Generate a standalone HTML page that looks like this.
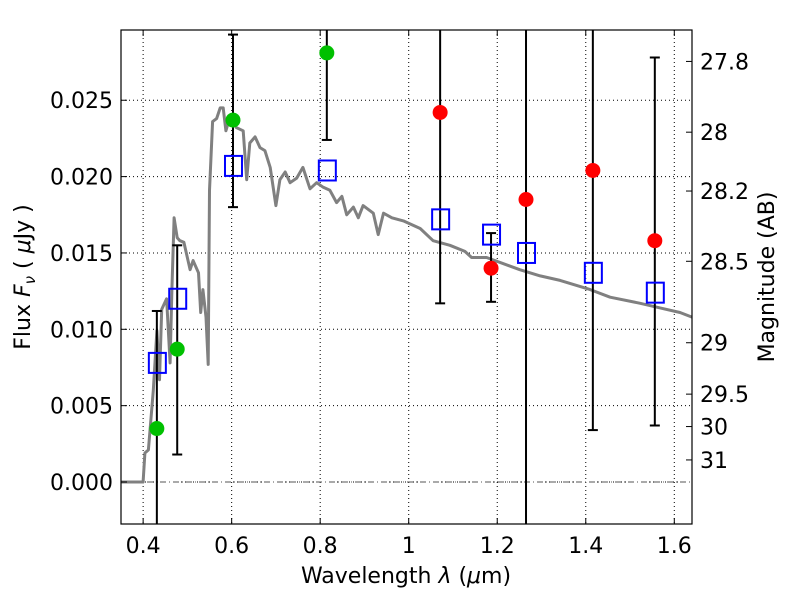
<!DOCTYPE html>
<html><head><meta charset="utf-8"><style>
html,body{margin:0;padding:0;background:#fff;}
svg{display:block;font-family:"DejaVu Sans","Liberation Sans",sans-serif;}
</style></head><body>
<svg id="chart" width="800" height="600" viewBox="0 0 800 600">
<rect width="800" height="600" fill="#fff"/>
<g id="grid"></g>
<g id="spec"></g>
<g id="marks"></g>
<rect x="121" y="30" width="571" height="494" fill="none" stroke="#000" stroke-width="1.2"/>
<g id="axes"></g>
<text x="406" y="583" font-size="22" text-anchor="middle">Wavelength  <tspan font-style="italic">λ</tspan> (<tspan font-style="italic">μ</tspan>m)</text>
<text transform="translate(30,277) rotate(-90)" font-size="22" text-anchor="middle">Flux  <tspan font-style="italic">F</tspan><tspan font-style="italic" font-size="15" dy="5">ν</tspan><tspan dy="-5">  ( </tspan><tspan font-style="italic">μ</tspan>Jy )</text>
<text transform="translate(774,277) rotate(-90)" font-size="22" text-anchor="middle">Magnitude (AB)</text>
</svg>
<script>
const xTicks=[0.4,0.6,0.8,1.0,1.2,1.4,1.6];
const xTickLabels=["0.4","0.6","0.8","1","1.2","1.4","1.6"];
const yTicks=[0,0.005,0.010,0.015,0.020,0.025];
const yTickLabels=["0.000","0.005","0.010","0.015","0.020","0.025"];
const magTicks=[27.8,28,28.2,28.5,29,29.5,30,31];
const magTickLabels=["27.8","28","28.2","28.5","29","29.5","30","31"];
const bandWave=[0.431,0.477,0.603,0.815,1.071,1.186,1.265,1.416,1.556];
const obsFlux=[0.0035,0.0087,0.0237,0.0281,0.0242,0.0140,0.0185,0.0204,0.0158];
const obsColor=["#00c000","#00c000","#00c000","#00c000","#ff0000","#ff0000","#ff0000","#ff0000","#ff0000"];
const errHigh=[0.0112,0.0155,0.0293,0.031,0.031,0.0163,0.031,0.031,0.0278];
const errLow=[-0.004,0.0018,0.0180,0.0224,0.0117,0.0118,-0.004,0.0034,0.0037];
const modelFlux=[0.0078,0.0120,0.0207,0.0204,0.0172,0.0162,0.0150,0.0137,0.0124];
const specWave=[0.35,0.400,0.404,0.412,0.423,0.431,0.437,0.442,0.453,0.461,0.465,0.470,0.477,0.483,0.492,0.506,0.513,0.525,0.530,0.535,0.542,0.547,0.550,0.557,0.566,0.574,0.581,0.587,0.596,0.611,0.626,0.634,0.641,0.653,0.664,0.675,0.687,0.700,0.709,0.721,0.732,0.747,0.761,0.777,0.792,0.807,0.822,0.837,0.849,0.860,0.875,0.886,0.897,0.920,0.931,0.943,0.962,0.988,1.003,1.026,1.055,1.093,1.127,1.142,1.176,1.251,1.297,1.342,1.410,1.455,1.523,1.568,1.613,1.640];
const specFlux=[0,0,0.0019,0.0021,0.0060,0.0099,0.0067,0.0113,0.0120,0.0078,0.0126,0.0173,0.0160,0.0158,0.0157,0.0139,0.0145,0.0137,0.0111,0.0126,0.0108,0.0077,0.0191,0.0236,0.0238,0.0245,0.0245,0.0230,0.0239,0.0232,0.0230,0.0198,0.0222,0.0226,0.0219,0.0217,0.0206,0.0181,0.0198,0.0203,0.0196,0.0199,0.0206,0.0192,0.0196,0.0193,0.0191,0.0183,0.0187,0.0175,0.0180,0.0173,0.0181,0.0176,0.0162,0.0176,0.0173,0.0171,0.0169,0.0166,0.0158,0.0155,0.0151,0.0147,0.0147,0.0139,0.0135,0.0132,0.0126,0.0121,0.0117,0.0114,0.0111,0.0108];

const L=121,R=692,T=30,B=524,X0=0.35,X1=1.64,Y0=-0.00275,Y1=0.0296;
const sx=v=>L+(v-X0)/(X1-X0)*(R-L);
const sy=v=>B-(v-Y0)/(Y1-Y0)*(B-T);
const magY=m=>sy(Math.pow(10,(23.9-m)/2.5));
const cy=v=>Math.max(T,Math.min(B,sy(v)));
const NS="http://www.w3.org/2000/svg";
function mk(tag,parent,attrs){const e=document.createElementNS(NS,tag);for(const k in attrs)e.setAttribute(k,attrs[k]);document.getElementById(parent).appendChild(e);return e;}

xTicks.forEach((v,i)=>{
  const x=sx(v);
  let g=mk('line','grid',{x1:x,x2:x,y1:T,y2:B,stroke:'#000','stroke-width':1,'stroke-dasharray':'1,3'});
  
  
  let t=mk('line','axes',{x1:x,x2:x,y1:B,y2:B-6,stroke:'#000'});
  
  
  let t2=mk('line','axes',{x1:x,x2:x,y1:T,y2:T+6,stroke:'#000'});
  
  
  let l=mk('text','axes',{x:x,y:B+29,'font-size':22,'text-anchor':'middle'});
  l.textContent=xTickLabels[i];
  
  
});
yTicks.forEach((v,i)=>{
  const y=sy(v);
  let g=mk('line','grid',{x1:L,x2:R,y1:y,y2:y,stroke:'#000','stroke-width':1,'stroke-dasharray':'1,3'});
  
  
  let t=mk('line','axes',{x1:L,x2:L+6,y1:y,y2:y,stroke:'#000'});
  
  
  let l=mk('text','axes',{x:L-8,y:y+8,'font-size':22,'text-anchor':'end'});
  l.textContent=yTickLabels[i];
  
  
});
magTicks.forEach((m,i)=>{
  const y=magY(m);
  let t=mk('line','axes',{x1:R,x2:R-6,y1:y,y2:y,stroke:'#000'});
  
  
  let l=mk('text','axes',{x:R+8,y:y+8,'font-size':22,'text-anchor':'start'});
  l.textContent=magTickLabels[i];
  
  
});
let zl=mk('line','grid',{x1:L,x2:R,y1:sy(0),y2:sy(0),stroke:'#555','stroke-width':1,'stroke-dasharray':'6,3,1,3'});



let d=specWave.map((w,i)=>(i?'L':'M')+sx(w).toFixed(1)+','+sy(specFlux[i]).toFixed(1)).join(' ');
let sp=mk('path','spec',{d:d,fill:'none',stroke:'#808080','stroke-width':3,'stroke-linejoin':'round'});



bandWave.forEach((w,i)=>{
  const x=sx(w),y1=cy(errHigh[i]),y2=cy(errLow[i]);
  let e=mk('line','marks',{x1:x,x2:x,y1:y1,y2:y2,stroke:'#000','stroke-width':2});
  
  
  [errHigh[i],errLow[i]].forEach(v=>{
    if(v>Y0&&v<Y1){
      let c=mk('line','marks',{x1:x-5,x2:x+5,y1:sy(v),y2:sy(v),stroke:'#000','stroke-width':2});
      
      
    }
  });
});
bandWave.forEach((w,i)=>{
  let s=mk('rect','marks',{x:sx(w)-8,y:sy(modelFlux[i])-10,width:17,height:20,fill:'none',stroke:'#0000ff','stroke-width':2});
  
  
});
bandWave.forEach((w,i)=>{
  let c=mk('circle','marks',{cx:sx(w),cy:sy(obsFlux[i]),r:7.5,fill:obsColor[i]});
  
  
});
</script>
</body></html>
